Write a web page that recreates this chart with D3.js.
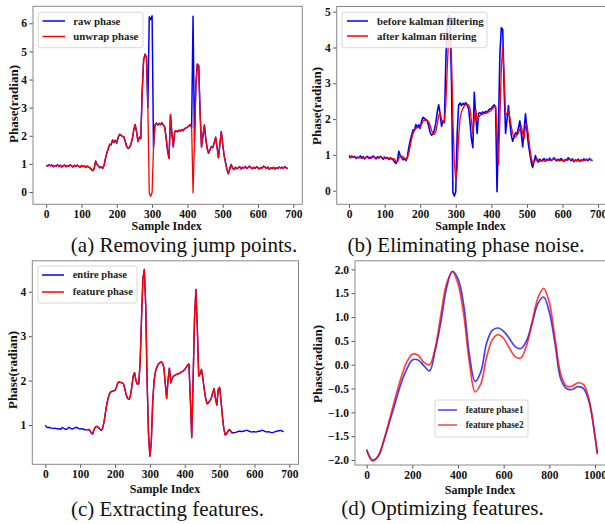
<!DOCTYPE html>
<html lang="en">
  <head>
    <meta charset="UTF-8" />
    <title>Phase processing</title>
    <script src="https://cdn.jsdelivr.net/npm/d3@7"></script>
    <style>
      body {
        margin: 0;
        background: #fff;
      }
      svg {
        display: block;
      }
      .tick text {
        font-family: "Liberation Serif", "Times New Roman", serif;
        font-weight: bold;
        font-size: 11.5px;
        fill: #111;
      }
      .lab {
        font-family: "Liberation Serif", "Times New Roman", serif;
        font-weight: bold;
        font-size: 12px;
        fill: #111;
      }
      .cap {
        font-family: "Liberation Serif", "Times New Roman", serif;
        font-size: 21px;
        fill: #111;
      }
      .leg {
        font-family: "Liberation Serif", "Times New Roman", serif;
        font-weight: bold;
        fill: #222;
      }
    </style>
  </head>
  <body>
    <svg id="fig" width="605" height="524"></svg>
    <script>
      // sample index step of the measured series
      let step = 4;

      // unwrapped phase (a) = phase before kalman filtering (b)
      let unwrapPhase = [
        0.95, 0.92, 0.97, 0.93, 0.96, 0.9, 0.94, 0.92, 0.97, 0.91, 0.95, 0.89,
        0.93, 0.96, 0.9, 0.94, 0.92, 0.97, 0.93, 0.89, 0.95, 0.91, 0.96, 0.92,
        0.88, 0.94, 0.9, 0.93, 0.87, 0.92, 0.89, 0.86, 0.8, 0.76, 0.84, 1.1,
        0.98, 0.92, 0.86, 0.9, 0.84, 0.95, 1.2, 1.4, 1.55, 1.7, 1.68, 1.85,
        1.76, 1.84, 1.74, 1.95, 2.05, 2.02, 1.98, 1.96, 1.8, 1.62, 1.55, 1.58,
        1.7, 1.9, 2.2, 2.4, 2.15, 1.8, 1.95, 1.9, 3.6, 4.7, 4.9, 4.8, 3.0,
        -0.05, -0.15, -0.02, 1.6, 2.38, 2.45, 2.38, 2.44, 2.4, 2.46, 2.38, 2.3,
        1.9, 1.45, 1.2, 2.75, 2.1, 1.6, 2.15, 2.18, 2.14, 2.2, 2.16, 2.22,
        2.18, 2.25, 2.28, 2.3, 2.35, 2.4, 2.3, -0.03, 1.8, 3.8, 4.55, 4.5, 2.8,
        1.6, 2.0, 2.38, 1.9, 1.55, 1.38, 1.5, 1.62, 1.58, 1.75, 1.95, 1.6,
        1.22, 1.7, 2.15, 1.7, 1.3, 1.05, 0.8, 0.65, 0.82, 0.98, 0.85, 0.8,
        0.88, 0.83, 0.86, 0.9, 0.82, 0.88, 0.85, 0.91, 0.84, 0.87, 0.92, 0.86,
        0.83, 0.88, 0.84, 0.9, 0.86, 0.82, 0.87, 0.85, 0.92, 0.88, 0.84, 0.89,
        0.81, 0.86, 0.83, 0.88, 0.82, 0.86, 0.84, 0.89, 0.85, 0.88, 0.84, 0.9,
        0.86, 0.83,
      ];

      // phase after kalman filtering (b) = entire phase (c)
      let kalmanPhase = [
        1.0, 0.95, 0.94, 0.95, 0.93, 0.93, 0.92, 0.93, 0.92, 0.91, 0.92, 0.9,
        0.94, 0.93, 0.91, 0.9, 0.92, 0.95, 0.93, 0.91, 0.92, 0.93, 0.95, 0.94,
        0.92, 0.91, 0.92, 0.91, 0.9, 0.89, 0.89, 0.9, 0.88, 0.82, 0.8, 0.9,
        0.96, 0.97, 0.95, 0.91, 0.88, 0.92, 1.05, 1.25, 1.45, 1.6, 1.7, 1.75,
        1.76, 1.77, 1.78, 1.85, 1.95, 1.97, 1.96, 1.95, 1.93, 1.82, 1.68, 1.6,
        1.58, 1.65, 1.85, 2.1, 2.18, 2.0, 1.92, 1.93, 2.4, 3.4, 4.3, 4.5, 3.7,
        2.0, 0.8, 0.3, 0.6, 1.5, 2.0, 2.2, 2.3, 2.37, 2.4, 2.42, 2.4, 2.3,
        1.95, 1.6, 2.0, 2.28, 1.95, 2.05, 2.1, 2.12, 2.14, 2.15, 2.16, 2.18,
        2.2, 2.22, 2.25, 2.3, 2.35, 2.37, 1.6, 0.72, 2.0, 3.4, 4.05, 3.2, 2.1,
        2.15, 2.25, 2.05, 1.8, 1.6, 1.48, 1.5, 1.55, 1.6, 1.72, 1.82, 1.6,
        1.45, 1.8, 1.85, 1.55, 1.2, 0.92, 0.78, 0.8, 0.86, 0.9, 0.86, 0.82,
        0.83, 0.83, 0.84, 0.85, 0.86, 0.86, 0.85, 0.86, 0.87, 0.88, 0.88, 0.86,
        0.85, 0.84, 0.85, 0.85, 0.84, 0.85, 0.86, 0.86, 0.88, 0.88, 0.86, 0.85,
        0.84, 0.85, 0.84, 0.83, 0.83, 0.84, 0.85, 0.86, 0.87, 0.87, 0.88, 0.86,
        0.85,
      ];

      // feature segment of (c)
      let featureStart = 120;
      let featureEnd = 536;

      // optimized features (d)
      let featureIdx = [
        0, 25, 50, 75, 100, 125, 150, 175, 200, 225, 250, 275, 300, 325, 350,
        375, 400, 425, 450, 475, 500, 525, 550, 575, 600, 625, 650, 675, 700,
        725, 750, 775, 800, 825, 850, 875, 900, 925, 950, 975, 1000, 1010,
      ];
      let featurePhase1 = [
        -1.78, -2.0, -1.92, -1.6, -1.2, -0.8, -0.4, -0.1, 0.1, 0.1, -0.02,
        -0.13, 0.3, 0.9, 1.62, 1.96, 1.8, 1.25, 0.2, -0.35, -0.15, 0.45, 0.72,
        0.77, 0.7, 0.55, 0.38, 0.34, 0.5, 0.88, 1.28, 1.42, 1.1, 0.45, -0.3,
        -0.5, -0.52, -0.46, -0.5, -0.8, -1.5, -1.85,
      ];
      let featurePhase2 = [
        -1.8, -2.02, -1.92, -1.58, -1.15, -0.7, -0.28, 0.05, 0.22, 0.2, 0.05,
        0.0, 0.35, 1.05, 1.7, 1.95, 1.7, 1.05, 0.05, -0.57, -0.4, 0.15, 0.52,
        0.63, 0.55, 0.35, 0.17, 0.14, 0.4, 0.9, 1.4, 1.6, 1.3, 0.55, -0.2,
        -0.45, -0.45, -0.38, -0.42, -0.75, -1.5, -1.88,
      ];

      let sampleTicks = [0, 100, 200, 300, 400, 500, 600, 700];

      let svg = d3.select("#fig");
      let blue = "#0000ff";
      let red = "#ff0000";

      // raw phase is the unwrapped phase folded back into [0, 2pi)
      let twoPi = 2 * Math.PI;
      let rawPhase = unwrapPhase.map((v) => ((v % twoPi) + twoPi) % twoPi);

      function toPoints(values) {
        return values.map((v, i) => [i * step, v]);
      }

      function panel(p) {
        let g = svg.append("g");
        let x = d3
          .scaleLinear()
          .domain(p.xDomain)
          .range([p.box[0], p.box[2]]);
        let y = d3
          .scaleLinear()
          .domain(p.yDomain)
          .range([p.box[3], p.box[1]]);

        let xAxis = g
          .append("g")
          .attr("transform", "translate(0," + p.box[3] + ")")
          .call(
            d3
              .axisBottom(x)
              .tickValues(p.xTicks)
              .tickFormat(d3.format("d"))
              .tickSize(3.5)
              .tickPadding(2)
          );
        let yAxis = g
          .append("g")
          .attr("transform", "translate(" + p.box[0] + ",0)")
          .call(
            d3
              .axisLeft(y)
              .tickValues(p.yTicks)
              .tickFormat(p.yFormat)
              .tickSize(3.5)
              .tickPadding(2.5)
          );
        [xAxis, yAxis].forEach((a) => {
          a.select(".domain").remove();
          a.selectAll(".tick line").attr("stroke", "#555");
        });

        let clipId = "clip" + p.name;
        g.append("clipPath")
          .attr("id", clipId)
          .append("rect")
          .attr("x", p.box[0])
          .attr("y", p.box[1])
          .attr("width", p.box[2] - p.box[0])
          .attr("height", p.box[3] - p.box[1]);

        let plot = g.append("g").attr("clip-path", "url(#" + clipId + ")");
        p.series.forEach((s) => {
          let line = d3
            .line()
            .x((d) => x(d[0]))
            .y((d) => y(d[1]))
            .curve(s.curve || d3.curveLinear);
          plot
            .append("path")
            .datum(s.points)
            .attr("fill", "none")
            .attr("stroke", s.color)
            .attr("stroke-width", s.width)
            .attr("stroke-opacity", s.opacity || 1)
            .attr("stroke-linejoin", "round")
            .attr("d", line);
        });

        g.append("rect")
          .attr("x", p.box[0])
          .attr("y", p.box[1])
          .attr("width", p.box[2] - p.box[0])
          .attr("height", p.box[3] - p.box[1])
          .attr("fill", "none")
          .attr("stroke", "#888")
          .attr("stroke-width", 1);

        // legend
        let L = p.legend;
        g.append("rect")
          .attr("x", L.box[0])
          .attr("y", L.box[1])
          .attr("width", L.box[2] - L.box[0])
          .attr("height", L.box[3] - L.box[1])
          .attr("rx", 2)
          .attr("fill", "#fff")
          .attr("fill-opacity", 0.85)
          .attr("stroke", "#d8d8d8");
        L.items.forEach((it, i) => {
          let ly = L.rows[i];
          g.append("line")
            .attr("x1", L.line[0])
            .attr("x2", L.line[1])
            .attr("y1", ly)
            .attr("y2", ly)
            .attr("stroke", it.color)
            .attr("stroke-opacity", it.opacity || 1)
            .attr("stroke-width", 1.5);
          g.append("text")
            .attr("class", "leg")
            .attr("x", L.textX)
            .attr("y", ly + L.size * 0.33)
            .style("font-size", L.size + "px")
            .text(it.label);
        });

        g.append("text")
          .attr("class", "lab")
          .attr("x", p.xLabel[0])
          .attr("y", p.xLabel[1])
          .attr("text-anchor", "middle")
          .text("Sample Index");
        g.append("text")
          .attr("class", "lab")
          .attr("transform", "translate(" + p.yLabel[0] + "," + p.yLabel[1] + ") rotate(-90)")
          .attr("text-anchor", "middle")
          .style("font-size", "13px")
          .text("Phase(radian)");
        g.append("text")
          .attr("class", "cap")
          .attr("x", p.caption[0])
          .attr("y", p.caption[1])
          .attr("text-anchor", "middle")
          .text(p.caption[2]);
      }

      // (a)
      panel({
        name: "a",
        box: [33, 6.3, 302.3, 204.3],
        xDomain: [-37.4, 725.5],
        yDomain: [-0.437, 6.604],
        xTicks: sampleTicks,
        yTicks: [0, 1, 2, 3, 4, 5, 6],
        yFormat: d3.format("d"),
        series: [
          { points: toPoints(rawPhase), color: blue, width: 1.5 },
          { points: toPoints(unwrapPhase), color: red, width: 1.3 },
        ],
        legend: {
          box: [38.3, 12.3, 143, 47.7],
          line: [42.5, 65],
          rows: [21, 36.5],
          textX: 73.3,
          size: 10.8,
          items: [
            { label: "raw phase", color: blue },
            { label: "unwrap phase", color: red },
          ],
        },
        xLabel: [166.7, 230],
        yLabel: [17.5, 104],
        caption: [184, 251.5, "(a) Removing jump points."],
      });

      // (b)
      panel({
        name: "b",
        box: [336.7, 6.5, 607, 204.3],
        xDomain: [-34.6, 725],
        yDomain: [-0.38, 5.145],
        xTicks: sampleTicks,
        yTicks: [0, 1, 2, 3, 4, 5],
        yFormat: d3.format("d"),
        series: [
          { points: toPoints(unwrapPhase), color: blue, width: 1.6 },
          { points: toPoints(kalmanPhase), color: red, width: 1.3 },
        ],
        legend: {
          box: [342, 12.3, 487, 47.7],
          line: [347, 368],
          rows: [21, 36],
          textX: 377,
          size: 10.8,
          items: [
            { label: "before kalman filtering", color: blue },
            { label: "after kalman filtering", color: red },
          ],
        },
        xLabel: [470.5, 230],
        yLabel: [321, 106],
        caption: [466, 251.5, "(b) Eliminating phase noise."],
      });

      // (c)
      let entire = toPoints(kalmanPhase);
      let feature = entire.filter((d) => d[0] >= featureStart && d[0] <= featureEnd);
      panel({
        name: "c",
        box: [32.3, 260.8, 298.5, 464.3],
        xDomain: [-37.3, 726.3],
        yDomain: [0.116, 4.697],
        xTicks: sampleTicks,
        yTicks: [1, 2, 3, 4],
        yFormat: d3.format("d"),
        series: [
          { points: entire, color: blue, width: 1.4 },
          { points: feature, color: red, width: 1.4 },
        ],
        legend: {
          box: [38, 266, 137, 303],
          line: [42, 64],
          rows: [275, 292],
          textX: 72.7,
          size: 10.5,
          items: [
            { label: "entire phase", color: blue },
            { label: "feature phase", color: red },
          ],
        },
        xLabel: [165, 493],
        yLabel: [17, 370],
        caption: [167.5, 516, "(c) Extracting features."],
      });

      // (d)
      let minus = (v) => d3.format(".1f")(v).replace("-", "\u2212");
      panel({
        name: "d",
        box: [355, 260.8, 608, 465],
        xDomain: [-51.3, 1057],
        yDomain: [-2.105, 2.18],
        xTicks: [0, 200, 400, 600, 800, 1000],
        yTicks: [-2, -1.5, -1, -0.5, 0, 0.5, 1, 1.5, 2],
        yFormat: minus,
        series: [
          {
            points: featureIdx.map((d, i) => [d, featurePhase1[i]]),
            color: blue,
            width: 1.7,
            opacity: 0.75,
            curve: d3.curveCatmullRom,
          },
          {
            points: featureIdx.map((d, i) => [d, featurePhase2[i]]),
            color: red,
            width: 1.7,
            opacity: 0.75,
            curve: d3.curveCatmullRom,
          },
        ],
        legend: {
          box: [435, 400, 528, 437],
          line: [438, 457],
          rows: [410, 425],
          textX: 465.7,
          size: 9.3,
          items: [
            { label: "feature phase1", color: blue, opacity: 0.75 },
            { label: "feature phase2", color: red, opacity: 0.75 },
          ],
        },
        xLabel: [480, 494],
        yLabel: [322, 364],
        caption: [442.5, 515, "(d) Optimizing features."],
      });
    </script>
  </body>
</html>
